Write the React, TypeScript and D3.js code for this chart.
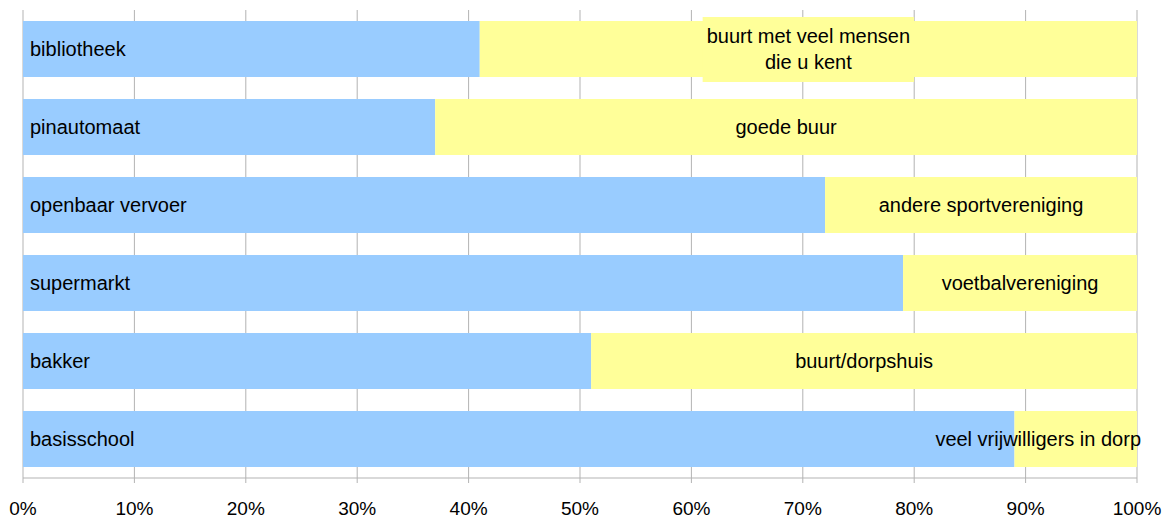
import { useEffect, useRef } from "react";
import * as d3 from "d3";

const WIDTH = 1168;
const HEIGHT = 518;

const categories = [
  "bibliotheek",
  "pinautomaat",
  "openbaar vervoer",
  "supermarkt",
  "bakker",
  "basisschool",
];
const facilityShare = [41, 37, 72, 79, 51, 89];
const alternativeShare = [59, 63, 28, 21, 49, 11];
const alternativeLabels = [
  ["buurt met veel mensen", "die u kent"],
  ["goede buur"],
  ["andere sportvereniging"],
  ["voetbalvereniging"],
  ["buurt/dorpshuis"],
  ["veel vrijwilligers in dorp"],
];
const tickValues = [0, 10, 20, 30, 40, 50, 60, 70, 80, 90, 100];

const BLUE = "#99ccff";
const YELLOW = "#ffff99";
const GRID = "#b3b3b3";
const FONT = "'Liberation Sans', Arial, sans-serif";

export default function App() {
  const svgRef = useRef<SVGSVGElement>(null);

  useEffect(() => {
    const svgEl = svgRef.current;
    if (!svgEl) return;
    const svg = d3.select(svgEl);
    svg.selectAll("*").remove();

    const left = 23;
    const right = 1137;
    const top = 10;
    const bottom = 478;

    const x = d3.scaleLinear().domain([0, 100]).range([left, right]);
    const y = d3
      .scaleBand<string>()
      .domain(categories)
      .range([top, bottom])
      .paddingInner(22 / 78)
      .paddingOuter(11 / 78);

    // grid
    svg
      .append("g")
      .selectAll("line")
      .data(tickValues)
      .join("line")
      .attr("x1", (d) => x(d))
      .attr("x2", (d) => x(d))
      .attr("y1", top)
      .attr("y2", bottom + 5)
      .attr("stroke", GRID)
      .attr("stroke-width", 1);

    svg
      .append("line")
      .attr("x1", left)
      .attr("x2", right)
      .attr("y1", bottom)
      .attr("y2", bottom)
      .attr("stroke", GRID);

    const rows = categories.map((c, i) => ({
      cat: c,
      a: facilityShare[i],
      b: alternativeShare[i],
      labels: alternativeLabels[i],
    }));

    const bars = svg.append("g");
    bars
      .selectAll("rect.blue")
      .data(rows)
      .join("rect")
      .attr("class", "blue")
      .attr("x", x(0))
      .attr("y", (d) => y(d.cat)!)
      .attr("width", (d) => x(d.a) - x(0))
      .attr("height", y.bandwidth())
      .attr("fill", BLUE);

    bars
      .selectAll("rect.yellow")
      .data(rows)
      .join("rect")
      .attr("class", "yellow")
      .attr("x", (d) => x(d.a))
      .attr("y", (d) => y(d.cat)!)
      .attr("width", (d) => x(d.a + d.b) - x(d.a))
      .attr("height", y.bandwidth())
      .attr("fill", YELLOW);

    // facility labels
    svg
      .append("g")
      .selectAll("text")
      .data(rows)
      .join("text")
      .attr("x", left + 7)
      .attr("y", (d) => y(d.cat)! + y.bandwidth() / 2)
      .attr("dy", "0.35em")
      .attr("font-family", FONT)
      .attr("font-size", 20)
      .attr("fill", "#000")
      .text((d) => d.cat);

    // alternative labels
    const labelG = svg.append("g");
    rows.forEach((d, i) => {
      const cx0 = (x(d.a) + x(d.a + d.b)) / 2;
      const cy = y(d.cat)! + y.bandwidth() / 2;
      const lineH = 26;
      const g = labelG.append("g");
      const bg = g.append("rect").attr("fill", YELLOW);
      const t = g
        .append("text")
        .attr("font-family", FONT)
        .attr("font-size", 20)
        .attr("fill", "#000")
        .attr("text-anchor", "middle");
      d.labels.forEach((line, j) => {
        t.append("tspan")
          .attr("x", cx0)
          .attr("y", cy + (j - (d.labels.length - 1) / 2) * lineH)
          .attr("dy", "0.35em")
          .text(line);
      });
      const node = t.node() as SVGTextElement;
      const bb = node.getBBox();
      let shift = 0;
      if (bb.x + bb.width > right + 4) shift = right + 4 - (bb.x + bb.width);
      if (shift !== 0) t.selectAll("tspan").attr("x", cx0 + shift);
      if (i === 0) {
        bg.attr("x", bb.x + shift - 4)
          .attr("y", cy - 32)
          .attr("width", bb.width + 8)
          .attr("height", 65);
      } else {
        bg.remove();
      }
    });

    // x axis labels
    svg
      .append("g")
      .selectAll("text")
      .data(tickValues)
      .join("text")
      .attr("x", (d) => x(d))
      .attr("y", 508)
      .attr("dy", "0.35em")
      .attr("text-anchor", "middle")
      .attr("font-family", FONT)
      .attr("font-size", 19)
      .attr("fill", "#000")
      .text((d) => `${d}%`);
  }, []);

  return (
    <div style={{ position: "fixed", left: 0, top: 0, background: "#fff" }}>
      <svg ref={svgRef} width={WIDTH} height={HEIGHT} style={{ display: "block" }} />
    </div>
  );
}
